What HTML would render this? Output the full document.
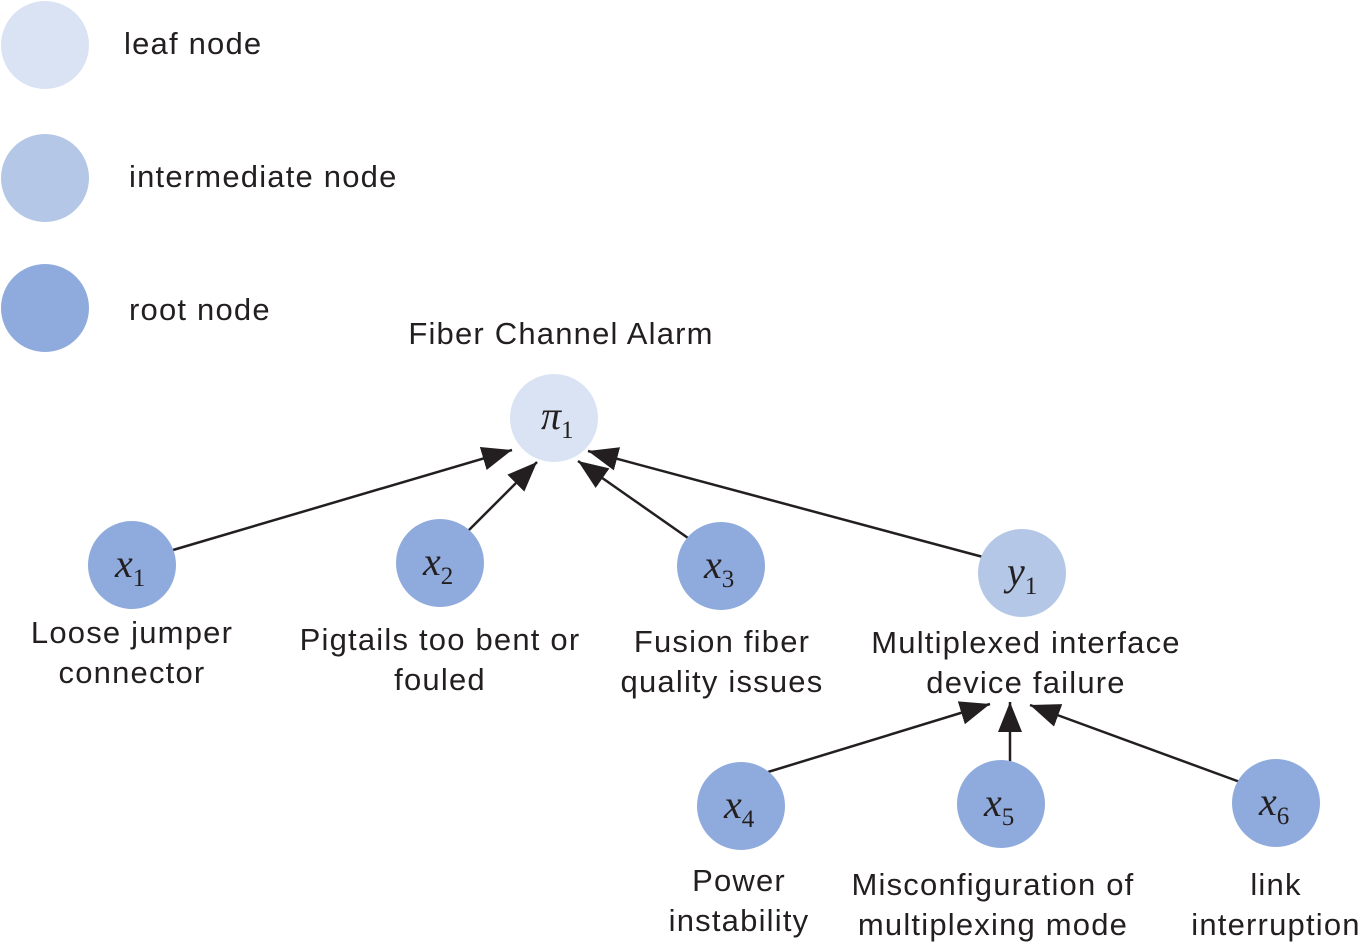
<!DOCTYPE html>
<html><head><style>
body{margin:0;background:#fff}
svg text{font-family:"Liberation Sans",Arial,sans-serif;font-size:31px;letter-spacing:1.2px;fill:#231f20}
.m{font-family:"Liberation Serif",serif;font-style:italic;font-size:40px;letter-spacing:0}
.s{font-family:"Liberation Serif",serif;font-size:25px;font-style:normal}
</style></head><body>
<svg width="1363" height="945" xmlns="http://www.w3.org/2000/svg">
<defs>
<marker id="b" viewBox="0 0 10 8" refX="10" refY="4" markerWidth="30" markerHeight="24" orient="auto" markerUnits="userSpaceOnUse"><path d="M0,0L10,4L0,8z" fill="#231f20"/></marker></defs>
<circle cx="45" cy="45" r="44" fill="#dae3f3"/>
<circle cx="45" cy="178" r="44" fill="#b4c7e7"/>
<circle cx="45" cy="308" r="44" fill="#8faadc"/>
<text x="124" y="54">leaf node</text>
<text x="129" y="187">intermediate node</text>
<text x="129" y="320">root node</text>
<text x="561" y="344" text-anchor="middle">Fiber Channel Alarm</text>
<g stroke="#231f20" stroke-width="2.5" fill="none" marker-end="url(#b)">
<line x1="173" y1="550" x2="512" y2="450"/>
<line x1="468" y1="531" x2="537" y2="462"/>
<line x1="688" y1="538" x2="578" y2="461"/>
<line x1="983" y1="557" x2="588" y2="451"/>
<line x1="768" y1="772" x2="990" y2="704"/>
<line x1="1010" y1="770" x2="1010" y2="702"/>
<line x1="1240" y1="782" x2="1030" y2="705"/>
</g>
<circle cx="554" cy="418" r="44" fill="#dae3f3"/>
<circle cx="132" cy="565" r="44" fill="#8faadc"/>
<circle cx="440" cy="563" r="44" fill="#8faadc"/>
<circle cx="721" cy="566" r="44" fill="#8faadc"/>
<circle cx="1022" cy="573" r="44" fill="#b4c7e7"/>
<circle cx="741" cy="806" r="44" fill="#8faadc"/>
<circle cx="1001" cy="804" r="44" fill="#8faadc"/>
<circle cx="1276" cy="803" r="44" fill="#8faadc"/>
<text class="m" x="541" y="429">π<tspan class="s" dy="9">1</tspan></text>
<text class="m" x="115" y="577">x<tspan class="s" dy="9">1</tspan></text>
<text class="m" x="423" y="575">x<tspan class="s" dy="9">2</tspan></text>
<text class="m" x="704" y="578">x<tspan class="s" dy="9">3</tspan></text>
<text class="m" x="1007" y="585">y<tspan class="s" dy="9">1</tspan></text>
<text class="m" x="724" y="818">x<tspan class="s" dy="9">4</tspan></text>
<text class="m" x="984" y="816">x<tspan class="s" dy="9">5</tspan></text>
<text class="m" x="1259" y="815">x<tspan class="s" dy="9">6</tspan></text>
<g text-anchor="middle">
<text x="132" y="643">Loose jumper</text><text x="132" y="683">connector</text>
<text x="440" y="650">Pigtails too bent or</text><text x="440" y="690">fouled</text>
<text x="722" y="652">Fusion fiber</text><text x="722" y="692">quality issues</text>
<text x="1026" y="653">Multiplexed interface</text><text x="1026" y="693">device failure</text>
<text x="739" y="891">Power</text><text x="739" y="931">instability</text>
<text x="993" y="895">Misconfiguration of</text><text x="993" y="935">multiplexing mode</text>
<text x="1276" y="895">link</text><text x="1276" y="935">interruption</text>
</g>
</svg>
</body></html>
